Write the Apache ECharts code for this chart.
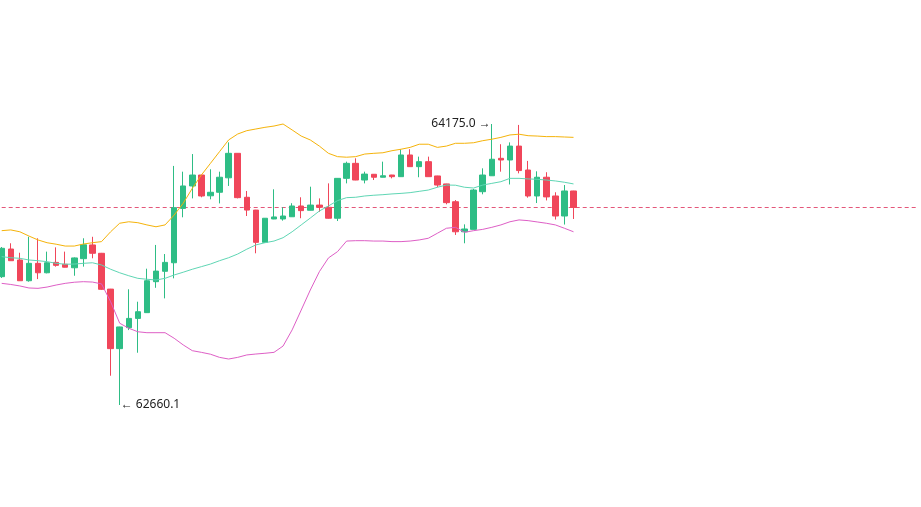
<!DOCTYPE html>
<html>
<head>
<meta charset="utf-8">
<title>Candles</title>
<script src="https://cdn.jsdelivr.net/npm/echarts@6/dist/echarts.min.js"></script>
<style>
  html, body { margin: 0; padding: 0; background: #fff; }
  #chart { width: 921px; height: 507px; }
</style>
</head>
<body>
<div id="chart"></div>
<script>
// [open, close, low, high]
const candles = [
  [63352, 63505, 63345, 63512], [63501, 63438, 63438, 63532], [63442, 63330, 63330, 63481],
  [63330, 63424, 63325, 63567], [63424, 63373, 63339, 63559], [63373, 63427, 63370, 63487],
  [63429, 63413, 63406, 63510], [63419, 63403, 63402, 63487], [63400, 63453, 63357, 63456],
  [63449, 63524, 63406, 63559], [63523, 63478, 63451, 63567], [63478, 63284, 63280, 63480],
  [63285, 62964, 62818, 63286], [62964, 63081, 62660.1, 63082], [63077, 63127, 63064, 63284],
  [63127, 63163, 62942, 63217], [63158, 63330, 63157, 63395], [63325, 63382, 63292, 63523],
  [63381, 63429, 63235, 63474], [63427, 63724, 63343, 63949], [63720, 63841, 63672, 63918],
  [63841, 63900, 63774, 64013], [63900, 63787, 63780, 63901], [63788, 63807, 63769, 63931],
  [63807, 63888, 63747, 63918], [63885, 64017, 63841, 64076], [64017, 63778, 63774, 64018],
  [63780, 63711, 63679, 63814], [63711, 63537, 63478, 63712], [63537, 63667, 63536, 63668],
  [63663, 63674, 63662, 63823], [63663, 63679, 63654, 63726], [63675, 63733, 63674, 63748],
  [63733, 63708, 63667, 63780], [63710, 63738, 63709, 63837], [63738, 63726, 63702, 63774],
  [63726, 63667, 63665, 63855], [63667, 63882, 63652, 63883], [63882, 63963, 63855, 63972],
  [63963, 63873, 63872, 63990], [63873, 63905, 63855, 63918], [63904, 63888, 63873, 63905],
  [63888, 63896, 63887, 63972], [63900, 63891, 63882, 63901], [63891, 64008, 63890, 64039],
  [64008, 63945, 63944, 64039], [63945, 63972, 63888, 63999], [63972, 63891, 63890, 63999],
  [63895, 63846, 63834, 63896], [63852, 63751, 63742, 63853], [63756, 63594, 63577, 63765],
  [63594, 63609, 63532, 63634], [63607, 63819, 63606, 63825], [63810, 63900, 63796, 63936],
  [63896, 63985, 63895, 64175.0], [63990, 63981, 63918, 64066], [63981, 64056, 63849, 64076],
  [64056, 63924, 63909, 64170], [63927, 63787, 63778, 63976], [63787, 63888, 63749, 63920],
  [63888, 63782, 63763, 63915], [63787, 63679, 63660, 63807], [63679, 63814, 63633, 63846],
  [63814, 63725, 63663, 63815]
];

const upperBand = [
  63600, 63604, 63594, 63571, 63550, 63535, 63527, 63517, 63517, 63528, 63535, 63541,
  63594, 63640, 63648, 63643, 63631, 63621, 63631, 63684, 63748, 63828, 63900, 63963,
  64026, 64089, 64121, 64139, 64148, 64157, 64164, 64175, 64143, 64110, 64089, 64056,
  64017, 63999, 63996, 63999, 64013, 64017, 64020, 64031, 64039, 64049, 64066, 64066,
  64049, 64056, 64071, 64071, 64074, 64085, 64093, 64103, 64116, 64120, 64112, 64110,
  64107, 64107, 64105, 64103
];

const midBand = [
  63460, 63454, 63451, 63442, 63438, 63433, 63424, 63419, 63420, 63424, 63427, 63415,
  63392, 63373, 63357, 63343, 63338, 63334, 63343, 63361, 63376, 63392, 63406, 63420,
  63438, 63454, 63474, 63500, 63523, 63535, 63544, 63562, 63594, 63631, 63668, 63706,
  63733, 63762, 63778, 63780, 63787, 63791, 63794, 63798, 63801, 63805, 63812, 63819,
  63834, 63846, 63845, 63834, 63830, 63846, 63855, 63864, 63882, 63882, 63879, 63877,
  63873, 63868, 63861, 63852
];

const lowerBand = [
  63316, 63310, 63302, 63291, 63289, 63296, 63307, 63316, 63322, 63325, 63323, 63313,
  63217, 63101, 63074, 63055, 63050, 63050, 63050, 63020, 62984, 62953, 62944, 62934,
  62917, 62908, 62917, 62930, 62935, 62939, 62944, 62978, 63065, 63172, 63280, 63379,
  63453, 63487, 63544, 63546, 63546, 63544, 63544, 63541, 63541, 63544, 63550, 63559,
  63586, 63613, 63618, 63591, 63600, 63607, 63618, 63631, 63648, 63658, 63654, 63647,
  63640, 63631, 63613, 63594
];

// empty slots to the right of the last candle
const FUTURE_SLOTS = 38;

const UP = "#2ebd85";
const DOWN = "#f0465a";
const LAST_LINE = "#e4577a";
const NONE = "rgba(255,255,255,0)";

const Y_MIN = 62110.3;
const Y_MAX = 64843.5;

const categories = [];
for (let i = 0; i < candles.length + FUTURE_SLOTS; i++) categories.push(String(i));

// last price line: split lines of a hidden twin axis, only the middle one
// (min + step = last close) gets a visible colour
const lastClose = candles[candles.length - 1][1];
const lastStep = lastClose - Y_MIN;

const chart = echarts.init(document.getElementById("chart"), null, { renderer: "canvas" });

chart.setOption({
  animation: false,
  backgroundColor: "#ffffff",
  grid: { left: 1.7, right: 2.6, top: 0, bottom: 0 },
  xAxis: {
    type: "category",
    data: categories,
    boundaryGap: false,
    show: false,
  },
  yAxis: [
    {
      type: "value",
      min: Y_MIN,
      max: Y_MAX,
      show: false,
      splitLine: { show: false },
    },
    {
      type: "value",
      min: Y_MIN,
      max: Y_MAX,
      interval: lastStep,
      show: true,
      axisLine: { show: false },
      axisTick: { show: false },
      axisLabel: { show: false },
      splitLine: {
        show: true,
        lineStyle: { color: [NONE, LAST_LINE, NONE], type: [4, 3], width: 1 },
      },
    },
  ],
  series: [
    {
      name: "K",
      type: "candlestick",
      data: candles,
      barWidth: 6,
      clip: false,
      itemStyle: {
        color: UP,
        color0: DOWN,
        borderColor: UP,
        borderColor0: DOWN,
        borderWidth: 1,
      },
      markPoint: {
        symbol: "circle",
        symbolSize: 0,
        data: [
          {
            type: "max",
            valueDim: "highest",
            label: {
              position: "left",
              distance: 1,
              formatter: (p) => p.value.toFixed(1) + " \u2192",
            },
          },
          {
            type: "min",
            valueDim: "lowest",
            label: {
              position: "right",
              distance: 1,
              formatter: (p) => "\u2190 " + p.value.toFixed(1),
            },
          },
        ],
        label: {
          show: true,
          color: "#222222",
          fontSize: 12,
          fontFamily: "Noto Sans",
        },
      },
    },
    {
      name: "UP",
      type: "line",
      data: upperBand,
      symbol: "none",
      lineStyle: { color: "#f5b30a", width: 1 },
    },
    {
      name: "MB",
      type: "line",
      data: midBand,
      symbol: "none",
      lineStyle: { color: "#5fd6b4", width: 1 },
    },
    {
      name: "DN",
      type: "line",
      data: lowerBand,
      symbol: "none",
      lineStyle: { color: "#de5fc6", width: 1 },
    },
  ],
});
</script>
</body>
</html>
